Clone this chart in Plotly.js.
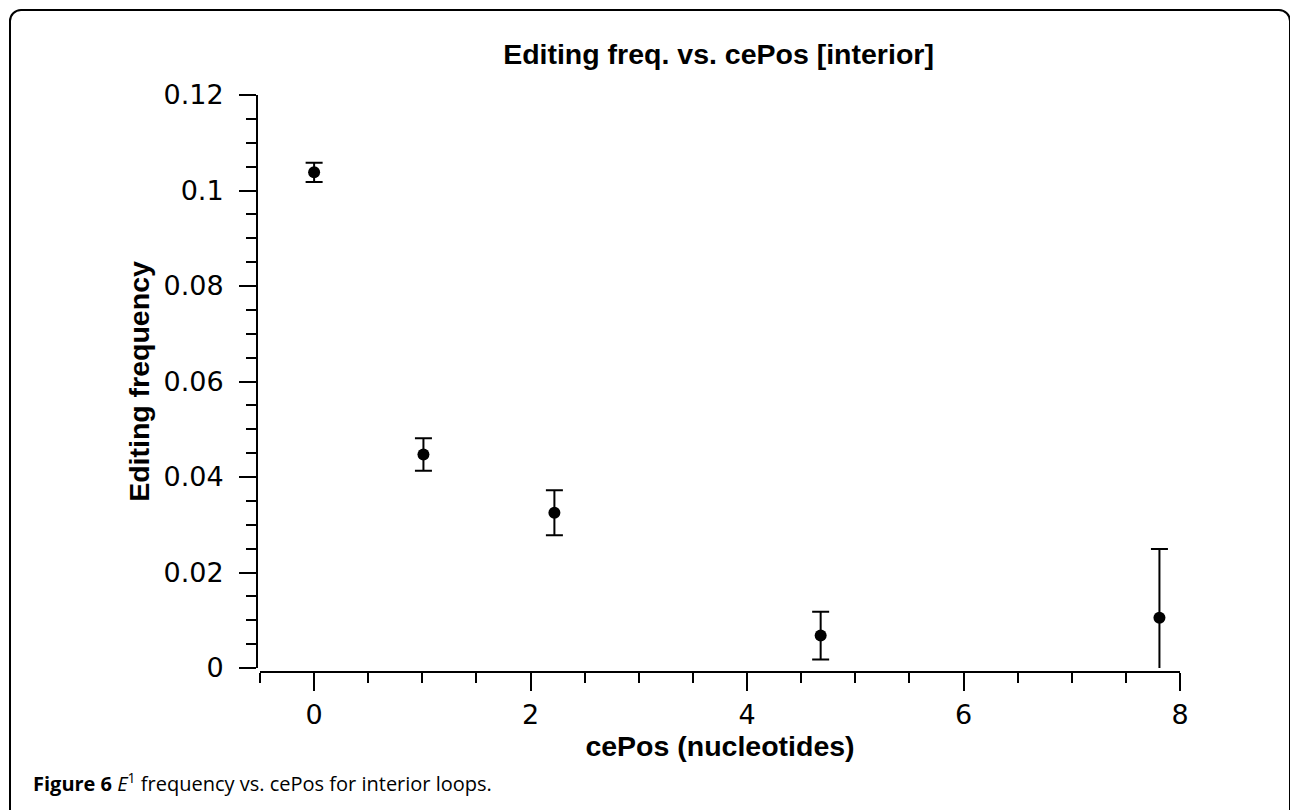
<!DOCTYPE html>
<html>
<head>
<meta charset="utf-8">
<script src="https://cdn.plot.ly/plotly-3.0.1.min.js"></script>
<style>
  html, body { margin: 0; padding: 0; background: #fff; overflow: hidden; }
  #frame { position: absolute; left: 9px; top: 9px; width: 1278px; height: 830px;
           border: 2px solid #000; border-radius: 12px; pointer-events: none; z-index: 5; }
  #chart { position: absolute; left: 0; top: 0; width: 1290px; height: 810px; }
</style>
</head>
<body>
<div id="chart"></div>
<div id="frame"></div>
<script>
// Data
const cePos = [0, 1.01, 2.22, 4.68, 7.81];
const editFreq = [0.1038, 0.0447, 0.0325, 0.0068, 0.0105];
const editErr = [0.0020, 0.0034, 0.0047, 0.0050, 0.0144];

const yTickVals = [0, 0.02, 0.04, 0.06, 0.08, 0.1, 0.12];
const yTickText = ["0", "0.02", "0.04", "0.06", "0.08", "0.1", "0.12"];
const xTickVals = [0, 2, 4, 6, 8];
const xTickText = ["0", "2", "4", "6", "8"];

const chartTitle = "Editing freq. vs. cePos [interior]";
const xTitle = "cePos (nucleotides)";
const yTitle = "Editing frequency";
const caption = "<b>Figure 6</b> <i>E</i><sup>1</sup> frequency vs. cePos for interior loops.";

const W = 1290, H = 810;
const M = {l: 257, r: 110, t: 95, b: 138};
const pw = W - M.l - M.r, ph = H - M.t - M.b;

const trace = {
  x: cePos, y: editFreq, type: 'scatter', mode: 'markers',
  marker: {color: '#000', size: 12, symbol: 'circle'},
  error_y: {type: 'data', array: editErr, visible: true, color: '#000', thickness: 2, width: 8.5},
  showlegend: false, hoverinfo: 'skip', cliponaxis: true
};

const tickFont = {family: 'DejaVu Sans', size: 27, color: '#000'};
const titleFont = {family: 'Liberation Sans, Arial, sans-serif', size: 28.5, color: '#000', weight: 'bold'};

const layout = {
  width: W, height: H,
  margin: M,
  paper_bgcolor: '#fff', plot_bgcolor: '#fff',
  showlegend: false,
  title: {text: '<b>' + chartTitle + '</b>', font: titleFont, x: 0.5 , xref: 'paper', xanchor: 'center',
          y: 1 - 44 / H, yref: 'container', yanchor: 'top'},
  xaxis: {
    domain: [3 / pw, 1], range: [-0.5, 8], anchor: 'free', position: 0,
    showline: true, linecolor: '#000', linewidth: 2, mirror: false,
    showgrid: false, zeroline: false,
    ticks: 'outside', ticklen: 18, tickwidth: 2, tickcolor: '#000',
    tickmode: 'array', tickvals: xTickVals, ticktext: xTickText,
    ticklabelstandoff: 1,
    minor: {dtick: 0.5, tick0: 0, ticks: 'outside', ticklen: 10, tickwidth: 2, tickcolor: '#000', showgrid: false},
    tickfont: tickFont,
    title: {text: '<b>' + xTitle + '</b>', font: titleFont, standoff: 6}
  },
  yaxis: {
    domain: [4 / ph, 1], range: [0, 0.12], anchor: 'free', position: 0,
    showline: true, linecolor: '#000', linewidth: 2, mirror: false,
    showgrid: false, zeroline: false,
    ticks: 'outside', ticklen: 17, tickwidth: 2, tickcolor: '#000',
    tickmode: 'array', tickvals: yTickVals, ticktext: yTickText,
    ticklabelstandoff: 10,
    minor: {dtick: 0.005, tick0: 0, ticks: 'outside', ticklen: 10, tickwidth: 2, tickcolor: '#000', showgrid: false},
    tickfont: tickFont,
    title: {text: '<b>' + yTitle + '</b>', font: titleFont, standoff: 4}
  },
  annotations: [{
    text: caption, showarrow: false,
    xref: 'paper', yref: 'paper',
    x: (31 - M.l) / pw, y: -(799 - (M.t + ph)) / ph,
    xanchor: 'left', yanchor: 'bottom',
    font: {family: 'Open Sans, Noto Sans, sans-serif', size: 20, color: '#000'}
  }]
};

Plotly.newPlot('chart', [trace], layout, {staticPlot: true, displayModeBar: false});
</script>
</body>
</html>
